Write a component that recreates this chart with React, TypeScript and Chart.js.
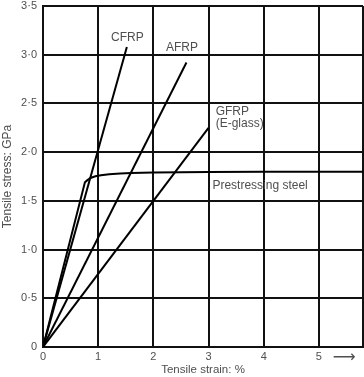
import React, { useEffect, useRef } from "react";
import { Chart, registerables } from "chart.js";

Chart.register(...registerables);

// Axis ticks
const strainTicks = [0, 1, 2, 3, 4, 5, 5.8];
const strainTickLabels = ["0", "1", "2", "3", "4", "5", ""];
const stressTickLabels = ["0", "0·5", "1·0", "1·5", "2·0", "2·5", "3·0", "3·5"];

// Series (strain %, stress GPa)
const cfrpStrain = [0, 1.52];
const cfrpStress = [0, 3.08];
const afrpStrain = [0, 2.6];
const afrpStress = [0, 2.92];
const gfrpStrain = [0, 3.0];
const gfrpStress = [0, 2.25];
const steelStrain = [0, 0.76, 0.8, 0.86, 0.95, 1.05, 1.2, 1.4, 1.6, 2.0, 2.5, 3.0, 4.0, 5.8];
const steelStress = [0, 1.69, 1.71, 1.735, 1.752, 1.763, 1.773, 1.781, 1.786, 1.791, 1.794, 1.796, 1.798, 1.8];

// Annotations
const labelTexts = ["CFRP", "AFRP", "GFRP", "(E-glass)", "Prestressing steel", "⟶"];
const labelX = [1.53, 2.52, 3.13, 3.13, 3.07, 5.46];
const labelY = [3.17, 3.07, 2.415, 2.29, 1.66, -0.11];
const labelAlign = ["center", "center", "left", "left", "left", "center"];

const FONT = "'Liberation Sans', Arial, Helvetica, sans-serif";
const TEXT = "#4f4f4f";

const toPts = (xs: number[], ys: number[]) => xs.map((x, i) => ({ x, y: ys[i] }));

const labelPlugin = {
  id: "curveLabels",
  afterDraw(chart: any) {
    const { ctx, scales } = chart;
    ctx.save();
    ctx.fillStyle = TEXT;
    ctx.textBaseline = "middle";
    labelTexts.forEach((t, i) => {
      const isArrow = t === "⟶";
      ctx.font = isArrow ? `16px 'DejaVu Sans', sans-serif` : `12px ${FONT}`;
      ctx.textAlign = labelAlign[i] as CanvasTextAlign;
      ctx.fillText(t, scales.x.getPixelForValue(labelX[i]), scales.y.getPixelForValue(labelY[i]));
    });
    ctx.restore();
  },
};

export default function App() {
  const ref = useRef<HTMLCanvasElement>(null);
  useEffect(() => {
    document.body.style.margin = "0";
    const line = (pts: any) => ({
      data: pts,
      showLine: true,
      borderColor: "#000",
      borderWidth: 2,
      pointRadius: 0,
      fill: false,
      tension: 0,
    });
    const chart = new Chart(ref.current!, {
      type: "scatter",
      data: {
        datasets: [
          line(toPts(cfrpStrain, cfrpStress)),
          line(toPts(afrpStrain, afrpStress)),
          line(toPts(gfrpStrain, gfrpStress)),
          line(toPts(steelStrain, steelStress)),
        ],
      },
      options: {
        responsive: false,
        animation: false,
        devicePixelRatio: 1,
        layout: { padding: { top: 6, right: 1, left: 0, bottom: 0 } },
        plugins: { legend: { display: false }, tooltip: { enabled: false } },
        scales: {
          x: {
            type: "linear",
            min: 0,
            max: 5.8,
            afterBuildTicks: (s: any) => {
              s.ticks = strainTicks.map((v) => ({ value: v }));
            },
            afterFit: (s: any) => {
              s.height = 30;
              s.paddingLeft = 0;
              s.paddingRight = 0;
            },
            grid: { color: "#111", lineWidth: 2, drawTicks: false },
            border: { color: "#111", width: 2 },
            ticks: {
              padding: 3,
              color: TEXT,
              font: { family: FONT, size: 11 },
              callback: (_v: any, i: number) => strainTickLabels[i],
            },
            title: {
              display: true,
              text: "Tensile strain: %",
              color: TEXT,
              font: { family: FONT, size: 11.5 },
              padding: { top: 0, bottom: 0 },
            },
          },
          y: {
            type: "linear",
            min: 0,
            max: 3.5,
            ticks: {
              stepSize: 0.5,
              padding: 6,
              color: TEXT,
              font: { family: FONT, size: 11 },
              callback: (_v: any, i: number) => stressTickLabels[i],
            },
            afterFit: (s: any) => {
              s.width = 43;
              s.paddingTop = 0;
              s.paddingBottom = 0;
            },
            grid: { color: "#111", lineWidth: 2, drawTicks: false },
            border: { color: "#111", width: 2 },
            title: {
              display: true,
              text: "Tensile stress: GPa",
              color: TEXT,
              font: { family: FONT, size: 12 },
              padding: { top: 0, bottom: 0 },
            },
          },
        },
      },
      plugins: [labelPlugin],
    });
    return () => chart.destroy();
  }, []);
  return (
    <div style={{ width: 364, height: 377 }}>
      <canvas ref={ref} width={364} height={377} style={{ display: "block" }} />
    </div>
  );
}
